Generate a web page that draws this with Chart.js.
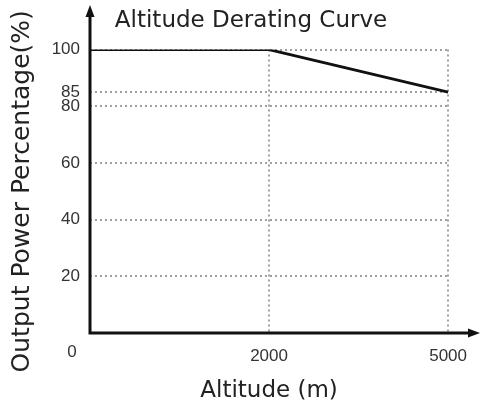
<!DOCTYPE html>
<html>
<head>
<meta charset="utf-8">
<script src="https://cdn.jsdelivr.net/npm/chart.js@4.4.0/dist/chart.umd.min.js"></script>
<style>
  html, body { margin: 0; padding: 0; background: #fff; }
  #wrap { width: 480px; height: 405px; }
</style>
</head>
<body>
<div id="wrap"><canvas id="grafico_altitude"></canvas></div>
<script>
// altitude categories and output power (%)
var altitudes = ['0', '2000', '5000'];
var potencia = [100, 100, 85];
var yTicks = [0, 20, 40, 60, 80, 85, 100];

var fonteTexto = 'DejaVu Sans';
var fonteNum = 'Liberation Sans';

// axis lines with arrowheads + the origin "0"
var eixos = {
  id: 'eixos',
  afterDraw: function (chart) {
    var c = chart.ctx, a = chart.chartArea;
    c.save();
    c.strokeStyle = '#111';
    c.fillStyle = '#111';
    c.lineWidth = 3;
    c.beginPath();
    c.moveTo(a.left, a.bottom + 1.5);
    c.lineTo(a.left, 16);
    c.moveTo(a.left - 1.5, a.bottom);
    c.lineTo(470, a.bottom);
    c.stroke();
    c.beginPath();
    c.moveTo(a.left, 5);
    c.lineTo(a.left - 4.5, 17);
    c.lineTo(a.left + 4.5, 17);
    c.closePath();
    c.fill();
    c.beginPath();
    c.moveTo(480, a.bottom);
    c.lineTo(468, a.bottom - 4.5);
    c.lineTo(468, a.bottom + 4.5);
    c.closePath();
    c.fill();
    c.font = '17px ' + fonteNum;
    c.fillStyle = '#333';
    c.textAlign = 'center';
    c.textBaseline = 'middle';
    c.fillText(altitudes[0], a.left - 18, a.bottom + 19);
    c.restore();
  }
};

var data = {
  labels: altitudes,
  datasets: [{
    label: 'Output Power Percentage',
    data: potencia,
    borderColor: '#111',
    backgroundColor: '#111',
    borderWidth: 2.8,
    pointRadius: 0,
    tension: 0,
    fill: false
  }]
};

var pontilhado = function (ctx) {
  return ctx.tick && ctx.tick.value === 0 ? 'rgba(0,0,0,0)' : '#a0a0a0';
};

var options = {
  responsive: true,
  maintainAspectRatio: false,
  animation: false,
  layout: { padding: { left: 50, right: 28, top: 0, bottom: 0 } },
  plugins: {
    legend: { display: false },
    tooltip: { enabled: false },
    title: {
      display: true,
      text: 'Altitude Derating Curve',
      color: '#222',
      font: { family: fonteTexto, size: 23, weight: 'normal' },
      padding: { top: 7, bottom: 15 }
    }
  },
  scales: {
    x: {
      type: 'category',
      offset: false,
      afterFit: function (s) { s.height = 72; },
      border: { display: false, dash: [2, 3] },
      grid: { color: pontilhado, lineWidth: 2, drawTicks: false },
      ticks: {
        color: '#333',
        padding: 13,
        maxRotation: 0,
        font: { family: fonteNum, size: 17 },
        callback: function (v, i) { return i === 0 ? '' : altitudes[i]; }
      },
      title: {
        display: true,
        text: 'Altitude (m)',
        color: '#222',
        font: { family: fonteTexto, size: 23 },
        padding: { top: 0, bottom: 0 }
      }
    },
    y: {
      min: 0,
      max: 100,
      afterFit: function (s) { s.width = 40; },
      afterBuildTicks: function (s) {
        s.ticks = yTicks.map(function (v) { return { value: v }; });
      },
      border: { display: false, dash: [2, 3] },
      grid: { color: pontilhado, lineWidth: 2, drawTicks: false },
      ticks: {
        color: '#333',
        padding: 10,
        autoSkip: false,
        font: { family: fonteNum, size: 17 },
        callback: function (v) { return v === 0 ? '' : v; }
      },
      title: {
        display: true,
        text: 'Output Power Percentage(%)',
        color: '#222',
        font: { family: fonteTexto, size: 25 },
        padding: { top: -43, bottom: 0 }
      }
    }
  }
};

var ctx = document.getElementById('grafico_altitude').getContext('2d');
var grafico = new Chart(ctx, {
  type: 'line',
  data: data,
  options: options,
  plugins: [eixos]
});
</script>
</body>
</html>
